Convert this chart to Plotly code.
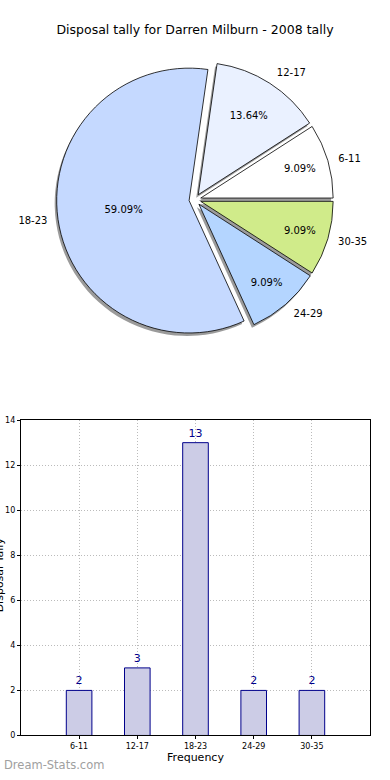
import plotly.graph_objects as go

categories = ["6-11", "12-17", "18-23", "24-29", "30-35"]
counts = [2, 3, 13, 2, 2]
pie_colors = ["#FFFFFF", "#EAF1FF", "#C5D9FF", "#B4D5FF", "#D0EB8A"]
y_ticks = [0, 2, 4, 6, 8, 10, 12, 14]

W, H = 390, 780
FONT = "DejaVu Sans"

def px_x(p):
    return p / W

def px_y(p):
    return 1 - p / H

# pie drawn clockwise from 3 o'clock with reversed order == counterclockwise in original order
pie_labels = categories[::-1]
pie_values = counts[::-1]
pie_cols = pie_colors[::-1]

cx, cy, half = 194, 198, 140
pull = 0.045

fig = go.Figure()

# shadow
fig.add_trace(go.Pie(
    values=pie_values, labels=pie_labels, sort=False, direction="clockwise",
    rotation=90, pull=[pull] * len(pie_values), textinfo="none", hoverinfo="skip",
    marker=dict(colors=["#8a8a8a"] * len(pie_values), line=dict(width=0)),
    opacity=0.85, showlegend=False,
    domain=dict(x=[px_x(cx - half - 2), px_x(cx + half - 2)],
                y=[px_y(cy + half + 3), px_y(cy - half + 3)]),
))

# main pie with percentages
fig.add_trace(go.Pie(
    values=pie_values, labels=pie_labels, sort=False, direction="clockwise",
    rotation=90, pull=[pull] * len(pie_values),
    texttemplate="%{percent:.2%}", textposition="inside",
    insidetextorientation="horizontal",
    textfont=dict(family=FONT, size=10, color="black"),
    marker=dict(colors=pie_cols, line=dict(color="black", width=0.8)),
    showlegend=False,
    domain=dict(x=[px_x(cx - half), px_x(cx + half)],
                y=[px_y(cy + half), px_y(cy - half)]),
))

# outside labels
fig.add_trace(go.Pie(
    values=pie_values, labels=pie_labels, sort=False, direction="clockwise",
    rotation=90, pull=[pull] * len(pie_values),
    textinfo="label", textposition="outside",
    textfont=dict(family=FONT, size=10, color="black"),
    marker=dict(colors=["rgba(0,0,0,0)"] * len(pie_values), line=dict(width=0)),
    showlegend=False, hoverinfo="skip",
    domain=dict(x=[px_x(cx - half - 8), px_x(cx + half + 8)],
                y=[px_y(cy + half + 8), px_y(cy - half - 8)]),
))

fig.add_trace(go.Bar(
    x=categories, y=counts, width=0.44,
    marker=dict(color="#CCCCE6", line=dict(color="#00008B", width=1)),
    text=[str(c) for c in counts], textposition="outside",
    textfont=dict(family=FONT, size=11, color="#00008B"),
    cliponaxis=False, showlegend=False,
))

grid = dict(showgrid=True, gridcolor="#BBBBBB", griddash="1px,2px", gridwidth=1)

fig.update_layout(
    width=W, height=H, autosize=False,
    margin=dict(l=0, r=0, t=0, b=0),
    paper_bgcolor="white", plot_bgcolor="white",
    font=dict(family=FONT, color="black"),
    title=dict(text="Disposal tally for Darren Milburn - 2008 tally",
               x=0.5, xanchor="center", y=px_y(30), yanchor="middle",
               font=dict(family=FONT, size=12.5, color="black")),
    xaxis=dict(domain=[px_x(19), px_x(370)], range=[-1, 5],
               type="category", showline=True, linecolor="black", linewidth=1,
               mirror=True, ticks="outside", ticklen=3, tickcolor="black",
               tickfont=dict(size=8, family=FONT),
               title=dict(text="Frequency", font=dict(size=11, family=FONT), standoff=2),
               anchor="y", **grid),
    yaxis=dict(domain=[px_y(740), px_y(421)], range=[0, 14],
               tickvals=y_ticks, showline=True, linecolor="black", linewidth=1,
               mirror=True, ticks="outside", ticklen=3, tickcolor="black",
               tickfont=dict(size=8, family=FONT),
               zeroline=False, anchor="x", **grid),
)

fig.add_annotation(text="Disposal Tally", textangle=-90, xref="paper", yref="paper",
                   x=px_x(-3), y=px_y(578), xanchor="center", yanchor="middle",
                   showarrow=False, font=dict(size=11, family=FONT, color="black"))

fig.add_annotation(text="Dream-Stats.com", xref="paper", yref="paper",
                   x=0, y=px_y(770), xanchor="left", yanchor="middle",
                   showarrow=False, font=dict(size=11.5, family=FONT, color="#A0A0A0"))

fig.write_html("out.html", config={"displayModeBar": False},
               post_script="document.body.style.margin='0';document.body.style.overflow='hidden';")
